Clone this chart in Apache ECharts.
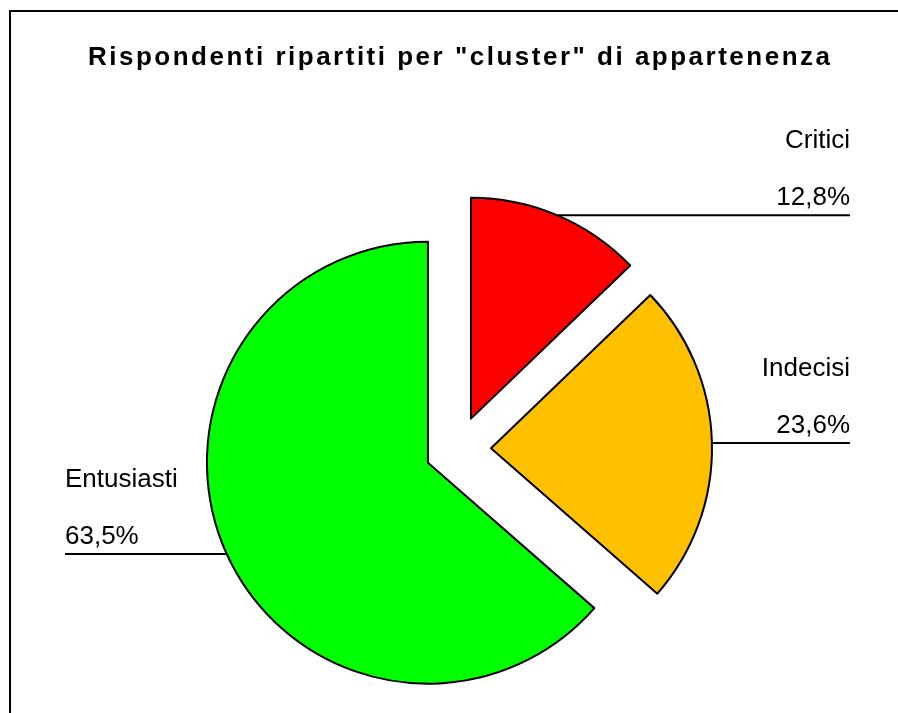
<!DOCTYPE html>
<html>
<head>
<meta charset="utf-8">
<script src="https://cdn.jsdelivr.net/npm/echarts@6/dist/echarts.min.js"></script>
<style>
  html, body { margin: 0; padding: 0; background: #fff; }
  #chart { width: 898px; height: 713px; }
</style>
</head>
<body>
<div id="chart"></div>
<script>
// Survey respondents split by cluster
const titleText = 'Rispondenti ripartiti per "cluster" di appartenenza';
const categories = ['Critici', 'Indecisi', 'Entusiasti'];
const shares = [12.8, 23.6, 63.5];
const sliceColors = ['#FF0000', '#FFC000', '#00FF00'];

const FONT = '"Liberation Sans", Arial, sans-serif';
const PIE_CX = 458, PIE_CY = 449, PIE_R = 221;
const EXPLODE = 33;          // distance each slice is pulled out of the centre
const RIGHT_EDGE = 850;
const LEFT_EDGE = 65;
const TITLE_TRACKING = '2.5px';

// Loose tracking for the bold heading (canvas letterSpacing, bold text only)
(function () {
  const proto = CanvasRenderingContext2D.prototype;
  const origFill = proto.fillText;
  proto.fillText = function (text, x, y, maxWidth) {
    if ('letterSpacing' in this) {
      this.letterSpacing = /bold|700/.test(this.font) ? TITLE_TRACKING : '0px';
    }
    return maxWidth === undefined
      ? origFill.call(this, text, x, y)
      : origFill.call(this, text, x, y, maxWidth);
  };
})();

const fmtPct = v => v.toFixed(1).replace('.', ',') + '%';

const total = shares.reduce((s, v) => s + v, 0);

// Horizontal leader from the arc to the chart edge, text sitting on top of it
function placeLabel(p) {
  const pts = p.labelLinePoints;
  if (!pts || p.dataIndex !== p.seriesIndex) return {};
  const a = pts[0];
  const isLeft = pts[2][0] < a[0];
  const endX = isLeft ? LEFT_EDGE : RIGHT_EDGE;
  return {
    x: endX,
    y: a[1] + 11,
    align: isLeft ? 'left' : 'right',
    verticalAlign: 'bottom',
    labelLinePoints: [[a[0], a[1]], [a[0], a[1]], [endX, a[1]]]
  };
}

// One pie per slice: every pie holds the full data so the angles stay shared,
// but only its own slice is painted, and the whole pie is shifted outwards
// along that slice's bisector.
let cum = 0;
const series = categories.map((name, i) => {
  const midDeg = 90 - 360 * (cum + shares[i] / 2) / total;
  cum += shares[i];
  const rad = midDeg * Math.PI / 180;
  return {
    type: 'pie',
    name: name,
    silent: true,
    center: [PIE_CX + Math.cos(rad) * EXPLODE, PIE_CY - Math.sin(rad) * EXPLODE],
    radius: PIE_R,
    startAngle: 90,
    clockwise: true,
    avoidLabelOverlap: false,
    emphasis: { disabled: true },
    label: {
      show: true,
      position: 'outside',
      color: '#000',
      fontFamily: FONT,
      fontSize: 26,
      lineHeight: 57,
      formatter: p => p.name + '\n' + fmtPct(p.value)
    },
    labelLine: {
      show: true,
      length: 0,
      length2: 20,
      lineStyle: { color: '#000', width: 2 }
    },
    labelLayout: placeLabel,
    data: categories.map((n, j) => j === i
      ? { name: n, value: shares[j], itemStyle: { color: sliceColors[j], borderColor: '#000', borderWidth: 2 } }
      : { name: n, value: shares[j], itemStyle: { color: 'rgba(0,0,0,0)', borderWidth: 0 },
          label: { show: false }, labelLine: { show: false } })
  };
});

const chart = echarts.init(document.getElementById('chart'), null, { renderer: 'canvas' });

chart.setOption({
  animation: false,
  backgroundColor: '#fff',
  title: {
    text: titleText,
    left: 88,
    top: 45,
    padding: 0,
    textAlign: 'left',
    textStyle: { fontFamily: FONT, fontWeight: 'bold', fontSize: 26, color: '#000' }
  },
  graphic: [{
    type: 'rect',
    silent: true,
    shape: { x: 10, y: 11, width: 1000, height: 1000 },
    style: { fill: 'none', stroke: '#000', lineWidth: 2 }
  }],
  series: series
});
</script>
</body>
</html>
